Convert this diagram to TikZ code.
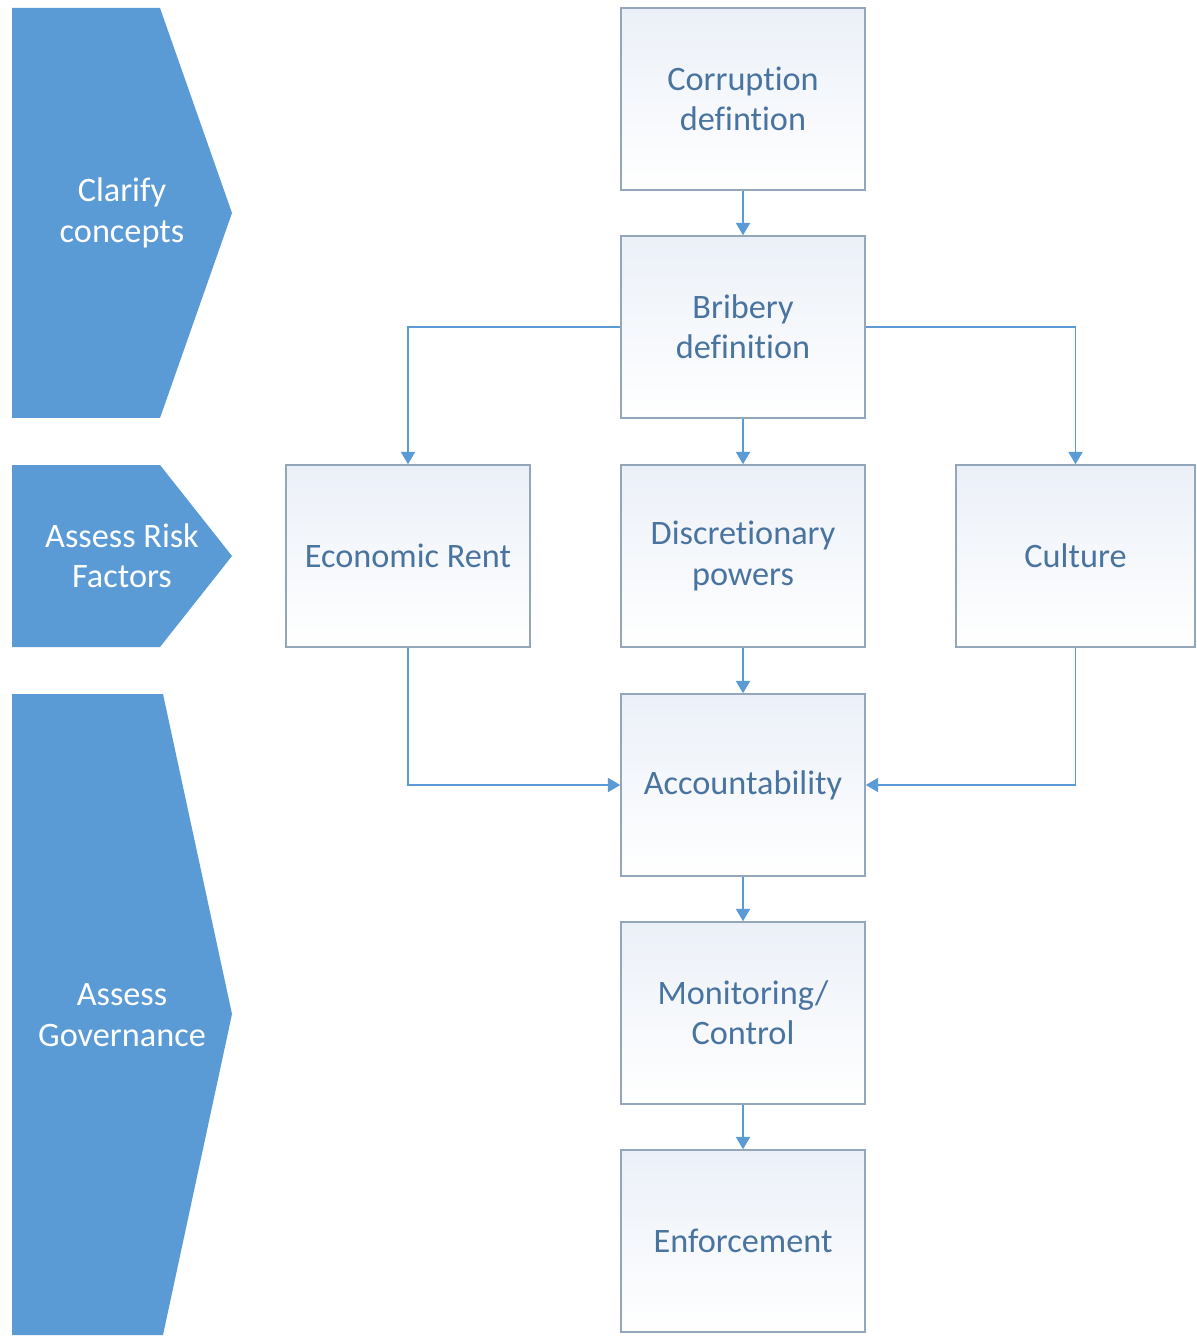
\documentclass[tikz,border=0pt]{standalone}
\usepackage{fontspec}
\setmainfont{Carlito}[Ligatures={NoCommon,NoContextual},RawFeature={-liga;-clig;-dlig}]
\usetikzlibrary{arrows.meta}
\definecolor{chevblue}{HTML}{5B9BD5}
\definecolor{boxline}{HTML}{93A6BA}
\definecolor{boxtext}{HTML}{4A74A0}
\definecolor{boxtint}{HTML}{EBF0F8}
\begin{document}
\begin{tikzpicture}[x=0.02cm,y=-0.02cm,
  stage/.style={fill=chevblue},
  stagetext/.style={text=white,align=center,font=\fontsize{19.5}{23}\selectfont},
  block/.style={draw=boxline,line width=0.9pt,top color=boxtint,bottom color=white,
    minimum width=4.88cm,minimum height=3.64cm,inner sep=0pt,
    text=boxtext,align=center,font=\fontsize{19.5}{23}\selectfont},
  link/.style={draw=chevblue,line width=0.9pt,-{Triangle[width=8pt,length=7pt]}}]
\fill[white] (0,0) rectangle (1196,1337);
\useasboundingbox (0,0) rectangle (1196,1337);
% stages on the left
\fill[stage] (12,8) -- (160,8) -- (232,213) -- (160,418) -- (12,418) -- cycle;
\fill[stage] (12,465) -- (160,465) -- (232,556) -- (160,647) -- (12,647) -- cycle;
\fill[stage] (12,694) -- (163,694) -- (232,1014) -- (163,1335) -- (12,1335) -- cycle;
\node (clarify) [stagetext] at (122,213) {Clarify\\concepts};
\node (risk) [stagetext] at (122,556) {Assess Risk\\Factors};
\node (gov) [stagetext] at (122,1015) {Assess\\Governance};
% boxes
\node (corr) [block] at (743,99) {Corruption\\defintion};
\node (brib) [block] at (743,327) {Bribery\\definition};
\node (rent) [block] at (408,556) {Economic Rent};
\node (disc) [block] at (743,556) {Discretionary\\powers};
\node (cult) [block,minimum width=4.78cm] at (1075.5,556) {Culture};
\node (acc) [block] at (743,785) {Accountability};
\node (mon) [block] at (743,1013) {Monitoring/\\Control};
\node (enf) [block] at (743,1241) {Enforcement};
% links
\draw[link] (corr) -- (brib);
\draw[link] (brib) -- (disc);
\draw[link] (brib.west) -| (rent.north);
\draw[link] (brib.east) -| (cult.north);
\draw[link] (disc) -- (acc);
\draw[link] (rent.south) |- (acc.west);
\draw[link] (cult.south) |- (acc.east);
\draw[link] (acc) -- (mon);
\draw[link] (mon) -- (enf);
\end{tikzpicture}
\end{document}
